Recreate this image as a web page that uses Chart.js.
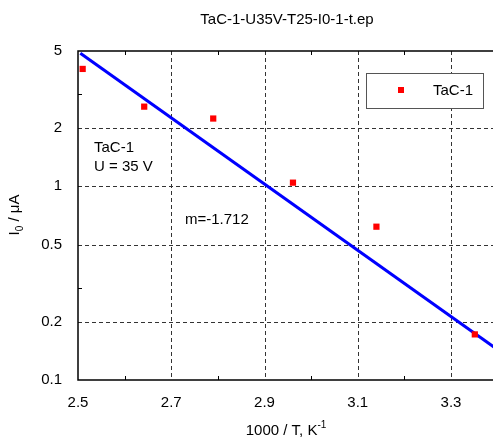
<!DOCTYPE html>
<html>
<head>
<meta charset="utf-8">
<script src="https://cdn.jsdelivr.net/npm/chart.js@4"></script>
<style>
  html, body { margin: 0; padding: 0; background: #fff; }
  canvas { display: block; }
</style>
</head>
<body>
<canvas id="chart-arrhenius" width="493" height="438"></canvas>
<script>
// data
const chartTitle = 'TaC-1-U35V-T25-I0-1-t.ep';
const seriesName = 'TaC-1';
const invT = [2.510, 2.642, 2.790, 2.961, 3.140, 3.351];
const current = [4.04, 2.58, 2.24, 1.045, 0.619, 0.172];
const fitX = [2.505, 3.40];
const fitY = [4.87, 0.1435];
const xTicks = [2.5, 2.7, 2.9, 3.1, 3.3];
const xMinor = [2.6, 2.8, 3.0, 3.2];
const yTicks = [0.1, 0.2, 0.5, 1, 2, 5];
const yMinor = [0.3, 3];
const slopeText = 'm=-1.712';
const noteLines = ['TaC-1', 'U = 35 V'];

const FONT = '"Liberation Sans", Arial, sans-serif';

const decor = {
  id: 'decor',
  beforeDatasetsDraw(chart) {
    const { ctx, chartArea: a, scales: { x, y } } = chart;
    ctx.save();
    ctx.strokeStyle = '#333';
    ctx.lineWidth = 1;
    ctx.setLineDash([4, 3]);
    xTicks.slice(1).forEach(v => {
      const px = Math.round(x.getPixelForValue(v)) + 0.5;
      ctx.beginPath(); ctx.moveTo(px, a.top); ctx.lineTo(px, a.bottom); ctx.stroke();
    });
    yTicks.slice(1, -1).forEach(v => {
      const py = Math.round(y.getPixelForValue(v)) + 0.5;
      ctx.beginPath(); ctx.moveTo(a.left, py); ctx.lineTo(a.right, py); ctx.stroke();
    });
    ctx.restore();
  },
  afterDraw(chart) {
    const { ctx, chartArea: a, scales: { x, y } } = chart;
    ctx.save();
    // axis box
    ctx.strokeStyle = '#000';
    ctx.lineWidth = 1.5;
    ctx.beginPath();
    ctx.moveTo(a.right, a.top); ctx.lineTo(a.left, a.top);
    ctx.lineTo(a.left, a.bottom); ctx.lineTo(a.right, a.bottom);
    ctx.stroke();
    // inward tick marks
    ctx.lineWidth = 1;
    xMinor.forEach(v => {
      const px = Math.round(x.getPixelForValue(v)) + 0.5;
      ctx.beginPath();
      ctx.moveTo(px, a.top); ctx.lineTo(px, a.top + 4);
      ctx.moveTo(px, a.bottom); ctx.lineTo(px, a.bottom - 4);
      ctx.stroke();
    });
    yMinor.forEach(v => {
      const py = Math.round(y.getPixelForValue(v)) + 0.5;
      ctx.beginPath(); ctx.moveTo(a.left, py); ctx.lineTo(a.left + 4, py); ctx.stroke();
    });

    // title
    ctx.fillStyle = '#000';
    ctx.font = '15px ' + FONT;
    ctx.textAlign = 'center';
    ctx.textBaseline = 'middle';
    ctx.fillText(chartTitle, 287, 20);

    // x axis title with superscript
    ctx.font = '15px ' + FONT;
    ctx.textAlign = 'left';
    ctx.textBaseline = 'alphabetic';
    const xa = '1000 / T, K';
    const xw = ctx.measureText(xa).width;
    ctx.font = '10px ' + FONT;
    const sw = ctx.measureText('-1').width;
    const x0 = 286 - (xw + sw) / 2;
    ctx.font = '15px ' + FONT;
    ctx.fillText(xa, x0, 435);
    ctx.font = '10px ' + FONT;
    ctx.fillText('-1', x0 + xw, 428);

    // y axis title with subscript
    ctx.translate(19, 215);
    ctx.rotate(-Math.PI / 2);
    ctx.font = '15px ' + FONT;
    const p1 = 'I', p3 = ' / \u03bcA';
    const w1 = ctx.measureText(p1).width, w3 = ctx.measureText(p3).width;
    ctx.font = '10px ' + FONT;
    const w2 = ctx.measureText('0').width;
    let sx = -(w1 + w2 + w3) / 2;
    ctx.font = '15px ' + FONT;
    ctx.fillText(p1, sx, 0);
    ctx.font = '10px ' + FONT;
    ctx.fillText('0', sx + w1, 4);
    ctx.font = '15px ' + FONT;
    ctx.fillText(p3, sx + w1 + w2, 0);
    ctx.restore();

    // annotations
    ctx.save();
    ctx.fillStyle = '#000';
    ctx.font = '15px ' + FONT;
    ctx.textBaseline = 'middle';
    ctx.textAlign = 'left';
    noteLines.forEach((t, i) => ctx.fillText(t, 94, 148 + i * 19));
    ctx.fillText(slopeText, 185, 220);

    // legend box
    ctx.fillStyle = '#fff';
    ctx.fillRect(366.5, 73.5, 117, 35);
    ctx.strokeStyle = '#555';
    ctx.lineWidth = 1;
    ctx.strokeRect(366.5, 73.5, 117, 35);
    ctx.fillStyle = '#ff0000';
    ctx.fillRect(398, 87, 6, 6);
    ctx.fillStyle = '#000';
    ctx.fillText(seriesName, 433, 91);
    ctx.restore();
  }
};

const ctx = document.getElementById('chart-arrhenius').getContext('2d');
const myChart = new Chart(ctx, {
  type: 'scatter',
  data: {
    datasets: [{
      label: seriesName,
      data: invT.map((v, i) => ({ x: v, y: current[i] })),
      pointStyle: 'rect',
      pointRadius: 4.4,
      borderWidth: 0,
      backgroundColor: '#ff0000',
      borderColor: '#ff0000'
    }, {
      label: 'fit',
      data: fitX.map((v, i) => ({ x: v, y: fitY[i] })),
      showLine: true,
      pointRadius: 0,
      borderColor: '#0000ff',
      borderWidth: 3
    }]
  },
  options: {
    responsive: false,
    animation: false,
    devicePixelRatio: 1,
    layout: { autoPadding: false, padding: { top: 51, left: 0, right: 0, bottom: 0 } },
    plugins: {
      legend: { display: false },
      title: { display: false },
      tooltip: { enabled: false }
    },
    scales: {
      x: {
        type: 'linear',
        min: 2.5,
        max: 3.39,
        afterBuildTicks: s => { s.ticks = xTicks.map(v => ({ value: v })); },
        afterFit: s => { s.height = 58; s.paddingLeft = 0; s.paddingRight = 0; },
        grid: { display: false },
        border: { display: false },
        ticks: {
          color: '#000',
          font: { family: FONT, size: 15 },
          padding: 6,
          maxRotation: 0,
          callback: v => v.toFixed(1)
        }
      },
      y: {
        type: 'logarithmic',
        min: 0.1,
        max: 5,
        afterBuildTicks: s => { s.ticks = yTicks.map(v => ({ value: v })); },
        afterFit: s => { s.width = 78; s.paddingTop = 0; s.paddingBottom = 0; },
        grid: { display: false },
        border: { display: false },
        ticks: {
          color: '#000',
          font: { family: FONT, size: 15 },
          padding: 8,
          callback: v => String(v)
        }
      }
    }
  },
  plugins: [decor]
});
</script>
</body>
</html>
